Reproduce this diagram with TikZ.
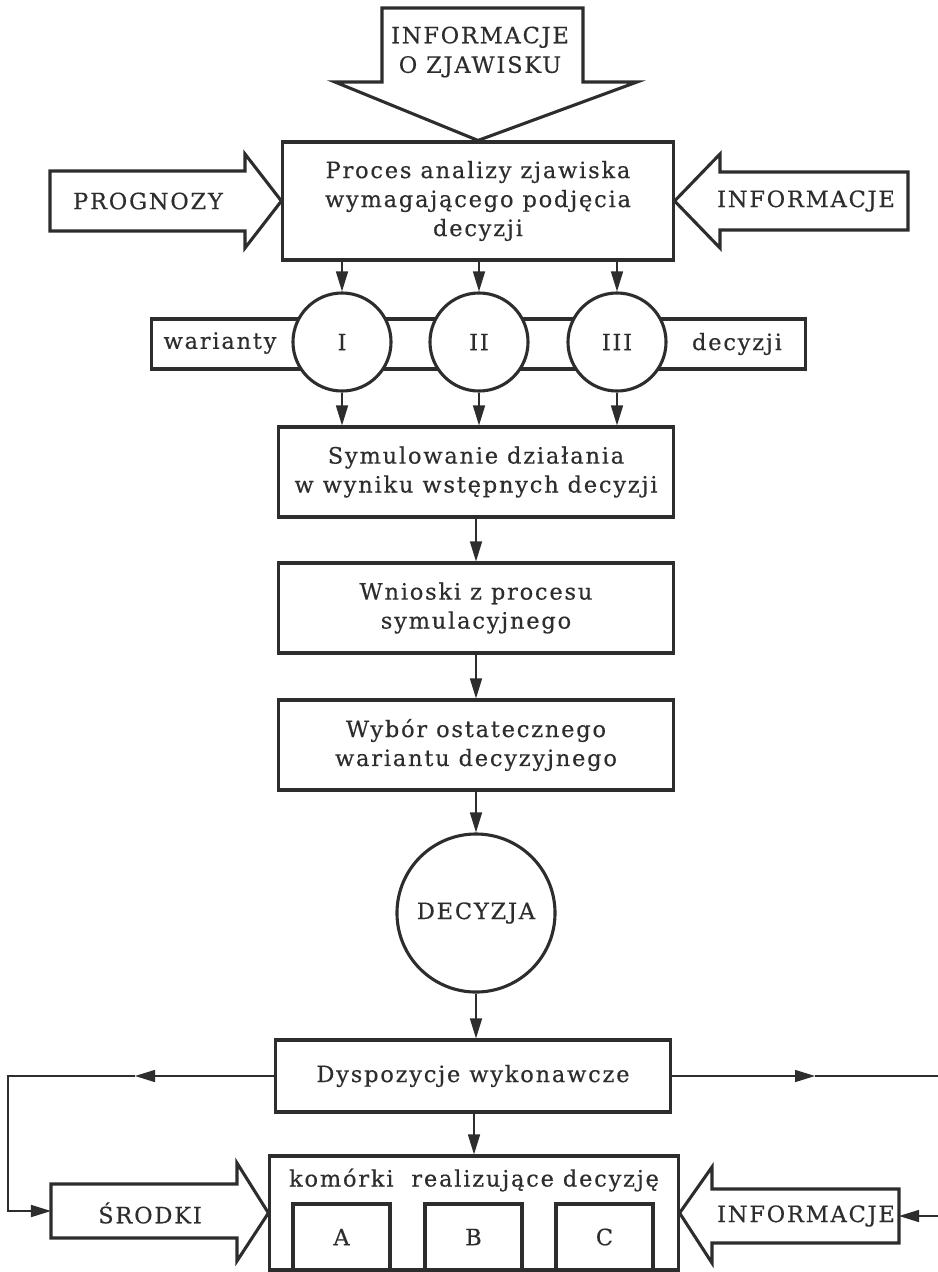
\documentclass[tikz,border=0pt]{standalone}
\usepackage{fontspec}
\setmainfont{DejaVu Serif}[LetterSpace=8,FakeBold=0.4]
\usetikzlibrary{arrows.meta}
\definecolor{ink}{RGB}{45,45,45}
\tikzset{
  txt/.style={font=\fontsize{16}{20.6}\selectfont, text=ink, align=center, inner sep=0pt},
  box/.style={draw=ink, line width=2.2pt, fill=white, txt},
  circ/.style={circle, draw=ink, line width=2.2pt, fill=white, txt},
  blk/.style={draw=ink, line width=2.2pt, fill=white, line join=miter},
  conn/.style={draw=ink, line width=1.1pt, -{Triangle[length=0.5cm,width=0.3cm]}},
  plain/.style={draw=ink, line width=1.1pt}
}
\begin{document}
\begin{tikzpicture}[x=0.025cm, y=-0.025cm]
\fill[white] (0,0) rectangle (938,1272);
\useasboundingbox (0,0) rectangle (938,1272);

% main column
\node[box, minimum width=9.75cm, minimum height=2.95cm] (box1) at (478,201)
  {Proces analizy zjawiska\\wymagającego podjęcia\\decyzji};

% top block arrow
\draw[blk] (382,8) -- (583,8) -- (583,82) -- (637,82) -- (box1.north) -- (335,82) -- (382,82) -- cycle;
\node[txt, font=\fontsize{16}{21}\selectfont] (tinfo) at (480,52) {INFORMACJE\\O ZJAWISKU};

% left block arrow
\draw[blk] (50,171) -- (245,171) -- (245,154) -- (box1.west) -- (245,248) -- (245,231) -- (50,231) -- cycle;
\node[txt] (progn) at (148,201) {PROGNOZY};

% right block arrow
\draw[blk] (908,172) -- (720,172) -- (720,154) -- (box1.east) -- (720,248) -- (720,230) -- (908,230) -- cycle;
\node[txt] (rinfo) at (806,201) {INFORMACJE};

% variants band
\node[draw=ink, line width=2.2pt, fill=white, minimum width=16.325cm, minimum height=1.25cm] (band) at (478.5,344) {};
\node[txt] (war) at (220,343) {warianty};
\node[txt] (dec) at (737,344) {decyzji};
\node[circ, minimum size=2.45cm] (c1) at (342,342) {I};
\node[circ, minimum size=2.45cm] (c2) at (479,342) {II};
\node[circ, minimum size=2.45cm] (c3) at (617,342) {III};

\node[box, minimum width=9.85cm, minimum height=2.25cm] (box2) at (476,472)
  {Symulowanie działania\\w wyniku wstępnych decyzji};
\node[box, minimum width=9.85cm, minimum height=2.25cm] (box3) at (476,608)
  {Wnioski z procesu\\symulacyjnego};
\node[box, minimum width=9.85cm, minimum height=2.25cm] (box4) at (476,745)
  {Wybór ostatecznego\\wariantu decyzyjnego};
\node[circ, minimum size=3.95cm] (decy) at (476,913) {DECYZJA};
\node[box, minimum width=9.85cm, minimum height=1.8cm] (dysp) at (473,1076)
  {Dyspozycje wykonawcze};

% executing cells
\node[draw=ink, line width=2.2pt, fill=white, minimum width=10.2cm, minimum height=2.85cm] (big) at (474,1213) {};
\node[txt] (bigtxt) at (474,1180) {komórki\ \ realizujące decyzję};
\node[box, minimum width=2.425cm, minimum height=1.65cm] (ca) at (341.5,1237) {A};
\node[box, minimum width=2.425cm, minimum height=1.65cm] (cb) at (473.5,1237) {B};
\node[box, minimum width=2.425cm, minimum height=1.65cm] (cc) at (604.5,1237) {C};

% bottom block arrows
\draw[blk] (51,1184) -- (237,1184) -- (237,1163) -- (big.west) -- (237,1261) -- (237,1238) -- (51,1238) -- cycle;
\node[txt] (srodki) at (150,1213) {ŚRODKI};
\draw[blk] (899,1189) -- (712,1189) -- (712,1167) -- (big.east) -- (712,1263) -- (712,1243) -- (899,1243) -- cycle;
\node[txt] (binfo) at (806,1216) {INFORMACJE};

% connectors
\draw[conn] (c1 |- box1.south) -- (c1.north);
\draw[conn] (c2 |- box1.south) -- (c2.north);
\draw[conn] (c3 |- box1.south) -- (c3.north);
\draw[conn] (c1.south) -- (c1 |- box2.north);
\draw[conn] (c2.south) -- (c2 |- box2.north);
\draw[conn] (c3.south) -- (c3 |- box2.north);
\draw[conn] (box2.south) -- (box3.north);
\draw[conn] (box3.south) -- (box4.north);
\draw[conn] (box4.south) -- (decy.north);
\draw[conn] (decy.south) -- (decy.south |- dysp.north);
\draw[conn] (dysp.south -| bigtxt) -- (big.north -| bigtxt);

\coordinate (srtail) at (51,1211);
\coordinate (intail) at (899,1216);
\coordinate (mL) at (135,1076);
\coordinate (mR) at (815,1076);
\coordinate (rEdge) at (945,1076);
\coordinate (rEdge2) at (945,1216);
\draw[conn] (dysp.west) -- (mL);
\draw[conn] (mL) -- (8,1076) |- (srtail);
\draw[conn] (dysp.east) -- (mR);
\draw[plain] (mR) -- (rEdge);
\draw[conn] (rEdge2) -- (intail);
\end{tikzpicture}
\end{document}
